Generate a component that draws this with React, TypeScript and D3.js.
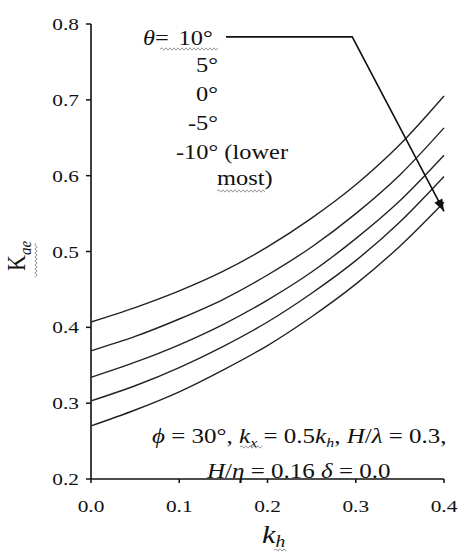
import React from 'react';
import * as d3 from 'd3';

// horizontal coefficient kh on the x axis
const khValues = [0, 0.05, 0.1, 0.15, 0.2, 0.25, 0.3, 0.35, 0.4];

// Kae for each wall inclination theta
const kaeTheta10 = [0.407, 0.426, 0.448, 0.474, 0.506, 0.544, 0.588, 0.641, 0.705];
const kaeTheta5 = [0.369, 0.388, 0.411, 0.437, 0.469, 0.506, 0.55, 0.601, 0.663];
const kaeTheta0 = [0.334, 0.354, 0.377, 0.404, 0.436, 0.473, 0.517, 0.567, 0.627];
const kaeThetaM5 = [0.303, 0.323, 0.347, 0.375, 0.407, 0.445, 0.488, 0.539, 0.599];
const kaeThetaM10 = [0.27, 0.291, 0.315, 0.344, 0.376, 0.414, 0.457, 0.507, 0.565];

const xTicks = [0, 0.1, 0.2, 0.3, 0.4];
const yTicks = [0.2, 0.3, 0.4, 0.5, 0.6, 0.7, 0.8];

// arrow from the legend down across the curves, in data units
const arrowPoints: [number, number][] = [
  [0.153, 0.783],
  [0.296, 0.783],
  [0.4, 0.553],
];

const W = 462;
const H = 555;
const SX = 1.22; // the source picture is stretched sideways
const FONT = "'Liberation Serif', 'Times New Roman', serif";

// text drawn with the same sideways stretch as the source
const T = ({ x, y, anchor = 'start', size = 18, children }: any) => (
  <g transform={`translate(${x},${y}) scale(${SX},1)`}>
    <text textAnchor={anchor} fontSize={size} fontFamily={FONT} fill="#111">
      {children}
    </text>
  </g>
);

// spell-check style squiggle
const wavy = (x0: number, x1: number, y: number) => {
  let d = `M${x0},${y}`;
  let up = true;
  for (let x = x0 + 2; x <= x1; x += 2) {
    d += `L${x},${y + (up ? -1.2 : 1.2)}`;
    up = !up;
  }
  return d;
};
const wavyV = (x: number, y0: number, y1: number) => {
  let d = `M${x},${y0}`;
  let up = true;
  for (let y = y0 + 2; y <= y1; y += 2) {
    d += `L${x + (up ? -1.2 : 1.2)},${y}`;
    up = !up;
  }
  return d;
};

const App = () => {
  const x = d3.scaleLinear().domain([0, 0.4]).range([91, 444]);
  const y = d3.scaleLinear().domain([0.2, 0.8]).range([479, 24]);

  const series = [kaeTheta10, kaeTheta5, kaeTheta0, kaeThetaM5, kaeThetaM10];
  const line = d3
    .line<number>()
    .x((_, i) => x(khValues[i]))
    .y((d) => y(d))
    .curve(d3.curveMonotoneX);

  const arrowLine = d3
    .line<[number, number]>()
    .x((d) => x(d[0]))
    .y((d) => y(d[1]));

  // arrowhead at the end of the arrow
  const [ax0, ay0] = arrowPoints[1];
  const [ax1, ay1] = arrowPoints[2];
  const px0 = x(ax0), py0 = y(ay0), px1 = x(ax1), py1 = y(ay1);
  const ang = Math.atan2(py1 - py0, px1 - px0);
  const len = 12, half = 4.5;
  const bx = px1 - len * Math.cos(ang);
  const by = py1 - len * Math.sin(ang);
  const head = `M${px1},${py1}L${bx + half * Math.sin(ang)},${by - half * Math.cos(ang)}L${bx - half * Math.sin(ang)},${by + half * Math.cos(ang)}Z`;

  return (
    <svg width={W} height={H} style={{ position: 'absolute', left: 0, top: 0, background: '#fff' }}>
      {/* axes */}
      <line x1={x(0)} x2={x(0)} y1={y(0.8)} y2={y(0.2)} stroke="#111" strokeWidth={1.6} />
      <line x1={x(0)} x2={x(0.4)} y1={y(0.2)} y2={y(0.2)} stroke="#111" strokeWidth={1.6} />
      {yTicks.map((t) => (
        <g key={'y' + t}>
          <line x1={x(0) - 5} x2={x(0)} y1={y(t)} y2={y(t)} stroke="#111" strokeWidth={1.5} />
          <T x={79} y={y(t) + 6} anchor="end" size={17.5}>
            {t.toFixed(1)}
          </T>
        </g>
      ))}
      {xTicks.map((t) => (
        <g key={'x' + t}>
          <line x1={x(t)} x2={x(t)} y1={y(0.2)} y2={y(0.2) + 4} stroke="#111" strokeWidth={1.5} />
          <T x={x(t)} y={512} anchor="middle" size={17.5}>
            {t.toFixed(1)}
          </T>
        </g>
      ))}

      {/* curves */}
      {series.map((s, i) => (
        <path key={i} d={line(s) || ''} fill="none" stroke="#222" strokeWidth={1.4} />
      ))}

      {/* arrow */}
      <path d={arrowLine(arrowPoints) || ''} fill="none" stroke="#111" strokeWidth={1.6} />
      <path d={head} fill="#111" />

      {/* legend */}
      <T x={143} y={45} size={20}>
        <tspan fontStyle="italic">θ</tspan>=<tspan dx={8}>10°</tspan>
      </T>
      <T x={218} y={72} anchor="end" size={20}>5°</T>
      <T x={218} y={101} anchor="end" size={20}>0°</T>
      <T x={218} y={130} anchor="end" size={20}>-5°</T>
      <T x={176} y={159} size={20}>-10° (lower</T>
      <T x={217} y={185} size={20}>most)</T>
      <path d={wavy(160, 218, 49)} fill="none" stroke="#999" strokeWidth={1} />
      <path d={wavy(217, 266, 191)} fill="none" stroke="#999" strokeWidth={1} />

      {/* parameters */}
      <T x={152} y={443} size={20.5}>
        <tspan fontStyle="italic">ϕ</tspan> = 30°, <tspan fontStyle="italic">k</tspan>
        <tspan fontStyle="italic" fontSize={13} dy={4}>x</tspan>
        <tspan dy={-4}> = 0.5</tspan>
        <tspan fontStyle="italic">k</tspan>
        <tspan fontStyle="italic" fontSize={13} dy={4}>h</tspan>
        <tspan dy={-4}>, </tspan>
        <tspan fontStyle="italic">H</tspan>/<tspan fontStyle="italic">λ</tspan> = 0.3,
      </T>
      <T x={207} y={478} size={20.5}>
        <tspan fontStyle="italic">H</tspan>/<tspan fontStyle="italic">η</tspan> = 0.16{' '}
        <tspan fontStyle="italic">δ</tspan> = 0.0
      </T>
      <path d={wavy(240, 262, 447)} fill="none" stroke="#999" strokeWidth={1} />

      {/* axis titles */}
      <T x={262} y={543} size={25}>
        <tspan fontStyle="italic">k</tspan>
        <tspan fontStyle="italic" fontSize={16} dy={4}>h</tspan>
      </T>
      <path d={wavy(274, 286, 550)} fill="none" stroke="#999" strokeWidth={1} />
      <g transform="translate(25,271) scale(1.1,1) rotate(-90)">
        <text fontSize={22} fontFamily={FONT} fill="#111">
          K<tspan fontStyle="italic" fontSize={15} dy={5}>ae</tspan>
        </text>
      </g>
      <path d={wavyV(36, 243, 277)} fill="none" stroke="#999" strokeWidth={1} />
    </svg>
  );
};

export default App;
